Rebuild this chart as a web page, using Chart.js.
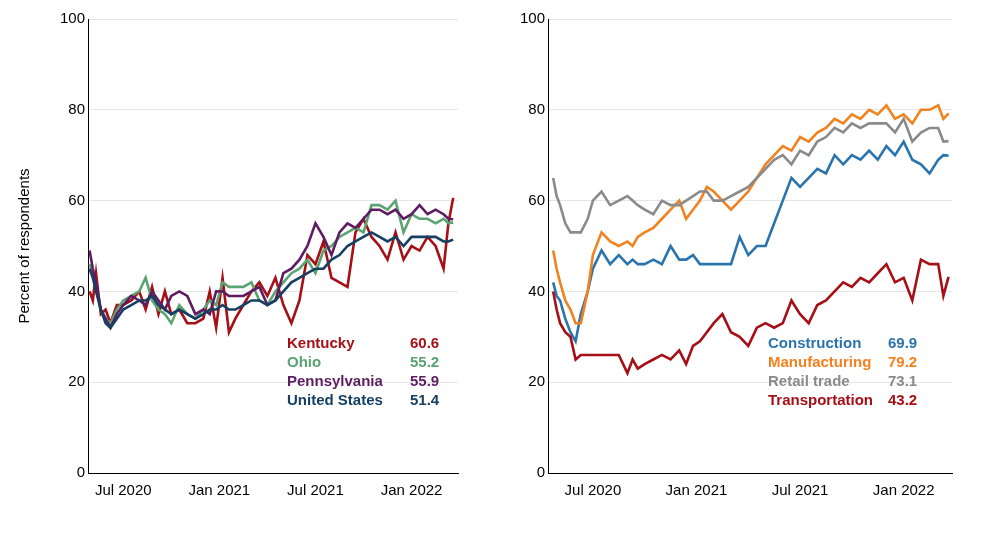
<!DOCTYPE html>
<html><head><meta charset="utf-8">
<script src="https://cdn.jsdelivr.net/npm/chart.js@4/dist/chart.umd.min.js"></script>
<style>
body{margin:0;background:#fff;font-family:Arial,"Liberation Sans",sans-serif}
.box{position:absolute;top:0;height:557px}
.leg{position:absolute;font-weight:bold;font-size:15px;line-height:19px}
.leg span{display:inline-block}
</style></head><body>
<div class="box" style="left:0;width:470px"><canvas id="left"></canvas></div>
<div class="box" style="left:470px;width:521px"><canvas id="right"></canvas></div>
<div class="leg" id="legL" style="left:287px;top:333px"></div>
<div class="leg" id="legR" style="left:768px;top:333px"></div>
<script>
// months since Jan 2020
const tickMonths = [6, 12, 18, 24];
const tickLabels = ['Jul 2020', 'Jan 2021', 'Jul 2021', 'Jan 2022'];

const monthsL = [3.9,4.1,4.3,4.6,4.9,5.2,5.6,6.0,6.5,7.0,7.4,7.8,8.2,8.6,9.0,9.5,10.0,10.5,11.0,11.4,11.8,12.2,12.6,13.0,13.5,14.0,14.5,15.0,15.5,16.0,16.5,17.0,17.5,18.0,18.5,19.0,19.5,20.0,20.5,21.0,21.5,22.0,22.5,23.0,23.5,24.0,24.5,25.0,25.5,26.0,26.3,26.6];
const kentucky = [40,38,44,35,36,33,37,37,38,40,36,41,35,40,35,36,33,33,34,40,32,43,31,34,37,40,42,39,43,37,33,38,48,46,51,43,42,41,53,56,52,50,47,53,47,50,49,52,50,45,55,60.6];
const ohio = [46,44,41,36,34,33,36,38,39,40,43,38,36,35,33,37,35,34,36,38,37,42,41,41,41,42,38,37,40,42,44,45,47,44,49,50,52,53,54,53,59,59,58,60,53,57,56,56,55,56,55,55.2];
const penn = [49,45,42,36,34,32,35,37,39,38,37,40,38,36,39,40,39,35,36,35,40,40,39,39,39,40,41,37,38,44,45,47,50,55,52,48,53,55,54,56,58,58,57,58,56,57,59,57,58,57,56,55.9];
const us = [45,43,40,36,33,32,34,36,37,38,38,39,37,36,35,36,35,34,35,36,36,37,36,36,37,38,38,37,38,40,42,43,44,45,45,47,48,50,51,52,53,52,51,52,50,52,52,52,52,51,51,51.4];

const monthsR = [3.7,3.9,4.1,4.4,4.7,5.0,5.3,5.7,6.0,6.5,7.0,7.5,8.0,8.3,8.6,9.0,9.5,10.0,10.5,11.0,11.4,11.8,12.2,12.6,13.0,13.5,14.0,14.5,15.0,15.5,16.0,16.5,17.0,17.5,18.0,18.5,19.0,19.5,20.0,20.5,21.0,21.5,22.0,22.5,23.0,23.5,24.0,24.5,25.0,25.5,26.0,26.3,26.6];
const construction = [42,39,38,34,31,29,35,40,45,49,46,48,46,47,46,46,47,46,50,47,47,48,46,46,46,46,46,52,48,50,50,55,60,65,63,65,67,66,70,68,70,69,71,69,72,70,73,69,68,66,69,70,69.9];
const manufacturing = [49,45,42,38,36,33,33,40,48,53,51,50,51,50,52,53,54,56,58,60,56,58,60,63,62,60,58,60,62,65,68,70,72,71,74,73,75,76,78,77,79,78,80,79,81,78,79,77,80,80,81,78,79.2];
const retail = [65,61,59,55,53,53,53,56,60,62,59,60,61,60,59,58,57,60,59,59,60,61,62,62,60,60,61,62,63,65,67,69,70,68,71,70,73,74,76,75,77,76,77,77,77,75,78,73,75,76,76,73,73.1];
const transportation = [40,36,33,31,30,25,26,26,26,26,26,26,22,25,23,24,25,26,25,27,24,28,29,31,33,35,31,30,28,32,33,32,33,38,35,33,37,38,40,42,41,43,42,44,46,42,43,38,47,46,46,39,43.2];

const pts = (xs, ys) => xs.map((x, i) => ({x, y: ys[i]}));

function makeChart(id, sets, xmin, xmax, leftPad, yWidth, rightPad, title) {
  return new Chart(document.getElementById(id), {
    type: 'line',
    data: {datasets: sets.map(s => ({data: s.data, borderColor: s.color, borderWidth: 2.6, pointRadius: 0, tension: 0}))},
    options: {
      responsive: true, maintainAspectRatio: false, animation: false,
      layout: {padding: {top: 19, left: leftPad, right: rightPad}},
      plugins: {legend: {display: false}, tooltip: {enabled: false}},
      scales: {
        x: {
          type: 'linear', min: xmin, max: xmax,
          afterBuildTicks: s => { s.ticks = tickMonths.map(v => ({value: v})); },
          afterFit: s => { s.height = 84; },
          ticks: {callback: v => tickLabels[tickMonths.indexOf(v)], color: '#000', font: {size: 15, family: 'Arial'}, maxRotation: 0},
          grid: {display: false, drawTicks: true, tickLength: 6, tickColor: '#000'},
          border: {color: '#000', width: 1}
        },
        y: {
          min: 0, max: 100,
          afterFit: s => { s.width = yWidth; },
          ticks: {stepSize: 20, color: '#000', font: {size: 15, family: 'Arial'}},
          grid: {color: '#e6e6e6', drawTicks: false},
          border: {color: '#000', width: 1},
          title: {display: !!title, text: title, color: '#000', font: {size: 15, family: 'Arial'}}
        }
      }
    }
  });
}

const left = [
  {name: 'Kentucky', data: pts(monthsL, kentucky), color: '#a50f15', last: kentucky},
  {name: 'Ohio', data: pts(monthsL, ohio), color: '#5aa472', last: ohio},
  {name: 'Pennsylvania', data: pts(monthsL, penn), color: '#5e1d62', last: penn},
  {name: 'United States', data: pts(monthsL, us), color: '#153f63', last: us}
];
const right = [
  {name: 'Construction', data: pts(monthsR, construction), color: '#2a74ad', last: construction},
  {name: 'Manufacturing', data: pts(monthsR, manufacturing), color: '#f28220', last: manufacturing},
  {name: 'Retail trade', data: pts(monthsR, retail), color: '#8a8a8a', last: retail},
  {name: 'Transportation', data: pts(monthsR, transportation), color: '#a50f15', last: transportation}
];

// draw order: first listed on top
makeChart('left', left.slice().reverse(), 3.8, 26.9, 12, 76, 12, 'Percent of respondents');
makeChart('right', right.slice().reverse(), 3.4, 26.8, 0, 78, 39, '');

function legend(id, sets, w) {
  document.getElementById(id).innerHTML = sets.map(s =>
    `<div style="color:${s.color}"><span style="width:${w}px">${s.name}</span><span>${s.last[s.last.length - 1].toFixed(1)}</span></div>`).join('');
}
legend('legL', left, 123);
legend('legR', right, 120);
</script>
</body></html>
